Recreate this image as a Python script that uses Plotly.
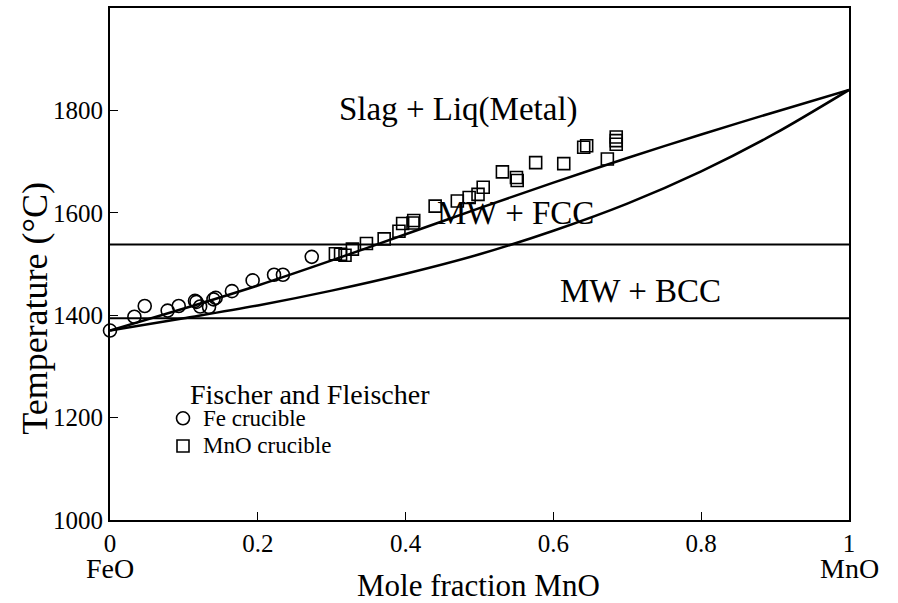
import plotly.graph_objects as go

# ---- data ----
fe_x = [0.0, 0.033, 0.047, 0.078, 0.093, 0.115, 0.117, 0.122, 0.134, 0.140, 0.143,
        0.165, 0.193, 0.222, 0.234, 0.273]
fe_T = [1370, 1397, 1418, 1409, 1418, 1428, 1426, 1417, 1416, 1431, 1434,
        1447, 1468, 1479, 1479, 1514]

mno_x = [0.305, 0.312, 0.318, 0.328, 0.347, 0.371, 0.391, 0.396, 0.410, 0.411, 0.440,
         0.470, 0.486, 0.498, 0.505, 0.531, 0.550, 0.551, 0.576, 0.614, 0.641, 0.645,
         0.673, 0.685, 0.685, 0.685]
mno_T = [1520, 1519, 1517, 1529, 1540, 1549, 1564, 1579, 1580, 1585, 1613,
         1623, 1630, 1636, 1650, 1680, 1669, 1663, 1698, 1696, 1728, 1731,
         1705, 1748, 1741, 1734]

liq_x = [0.0, 0.1, 0.2, 0.3, 0.4, 0.5, 0.6, 0.7, 0.8, 0.9, 1.0]
liq_T = [1370, 1413, 1458, 1507, 1558, 1609, 1659, 1707, 1753, 1797, 1840]

sol_x = [0.0, 0.1, 0.2, 0.3, 0.4, 0.5, 0.6, 0.7, 0.8, 0.9, 1.0]
sol_T = [1370, 1394, 1419, 1448, 1481, 1519, 1565, 1618, 1681, 1755, 1840]

fcc_line_x = [0.0, 1.0]
fcc_line_T = [1538, 1538]
bcc_line_x = [0.0, 1.0]
bcc_line_T = [1394, 1394]

xticks = [0, 0.2, 0.4, 0.6, 0.8, 1]
xticklabels = ["0", "0.2", "0.4", "0.6", "0.8", "1"]
yticks = [1000, 1200, 1400, 1600, 1800]

FONT = "Liberation Serif, Times New Roman, serif"

fig = go.Figure()
fig.add_trace(go.Scatter(x=liq_x, y=liq_T, mode="lines",
                         line=dict(color="black", width=2.5, shape="spline", smoothing=0.8),
                         showlegend=False, hoverinfo="skip"))
fig.add_trace(go.Scatter(x=sol_x, y=sol_T, mode="lines",
                         line=dict(color="black", width=2.5, shape="spline", smoothing=0.8),
                         showlegend=False, hoverinfo="skip"))
fig.add_trace(go.Scatter(x=fcc_line_x, y=fcc_line_T, mode="lines", line=dict(color="black", width=2),
                         showlegend=False, hoverinfo="skip"))
fig.add_trace(go.Scatter(x=bcc_line_x, y=bcc_line_T, mode="lines", line=dict(color="black", width=2),
                         showlegend=False, hoverinfo="skip"))
fig.add_trace(go.Scatter(x=fe_x, y=fe_T, mode="markers",
                         name="<span style='font-size:23px'>Fe crucible</span>", cliponaxis=False,
                         marker=dict(symbol="circle-open", size=13, color="black",
                                     line=dict(color="black", width=1.6))))
fig.add_trace(go.Scatter(x=mno_x, y=mno_T, mode="markers",
                         name="<span style='font-size:23px'>MnO crucible</span>", cliponaxis=False,
                         marker=dict(symbol="square-open", size=12, color="black",
                                     line=dict(color="black", width=1.6))))

L, R, T, B = 110, 49, 6, 83
W, H = 898, 603
pw, ph = W - L - R, H - T - B

def px(xp):
    return (xp - L) / pw

def py(yp):
    return (H - B - yp) / ph

ann = []
def add(text, x, y, size, xanchor="center", yanchor="middle", angle=0):
    ann.append(dict(text=text, x=x, y=y, xref="paper", yref="paper", xanchor=xanchor, yanchor=yanchor,
                    showarrow=False, textangle=angle, font=dict(family=FONT, size=size, color="black")))

add("Slag + Liq(Metal)", px(458), py(108), 33)
add("MW + FCC", px(515), py(212), 33)
add("MW + BCC", px(640), py(290), 33)
add("Fischer and Fleischer", px(188), py(394), 28, xanchor="left")
add("FeO", px(110), py(569), 28)
add("MnO", px(849), py(569), 28)
add("Mole fraction MnO", px(478), py(586), 31)
add("Temperature (°C)", px(35), py(308), 36, angle=-90)

fig.update_layout(
    width=W, height=H,
    margin=dict(l=L, r=R, t=T, b=B),
    paper_bgcolor="white", plot_bgcolor="white",
    font=dict(family=FONT, size=24, color="black"),
    annotations=ann,
    legend=dict(x=px(163), y=py(399), xanchor="left", yanchor="top",
                bgcolor="rgba(0,0,0,0)", font=dict(family=FONT, size=19, color="black"),
                tracegroupgap=0, itemsizing="trace"),
    xaxis=dict(range=[0, 1], tickvals=xticks, ticktext=xticklabels, ticks="inside", ticklen=8,
               tickwidth=1.2, tickcolor="black", showline=True, linecolor="black", linewidth=2,
               mirror=True, showgrid=False, zeroline=False,
               tickfont=dict(family=FONT, size=25, color="black")),
    yaxis=dict(range=[1000, 2000], tickvals=yticks, ticks="inside", ticklen=8,
               tickwidth=1.2, tickcolor="black", showline=True, linecolor="black", linewidth=2,
               mirror=True, showgrid=False, zeroline=False,
               tickfont=dict(family=FONT, size=25, color="black")),
)

fig.write_html("out.html")
